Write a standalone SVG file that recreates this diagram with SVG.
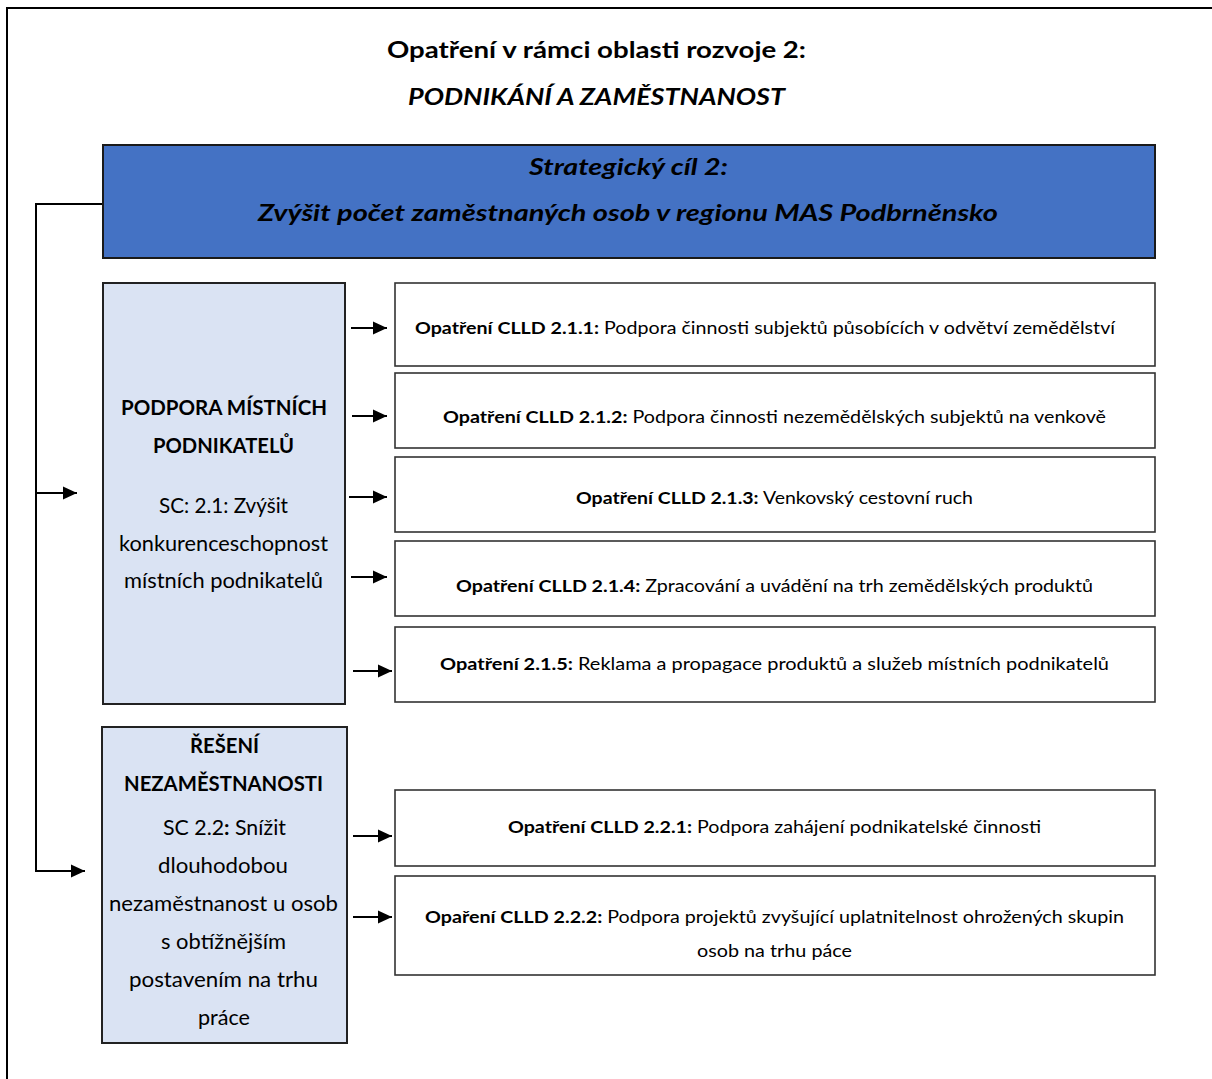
<svg xmlns="http://www.w3.org/2000/svg" width="1212" height="1079" viewBox="0 0 1212 1079">
<defs>
<style>
text{font-family:Lato,"Open Sans","Liberation Sans",sans-serif;fill:#000}
.t{font-size:22px;font-weight:bold}
.bl{font-size:23px;font-weight:bold;font-style:italic}
.lb{font-size:20.5px}
.b{font-weight:bold}
.rb{font-size:17.5px}
.frame{fill:none;stroke:#000;stroke-width:2}
.blue{fill:#4472C4;stroke:#1a1a1a;stroke-width:2}
.light{fill:#DAE3F3;stroke:#222;stroke-width:2}
.white{fill:#fff;stroke:#333;stroke-width:1.6}
.con{fill:none;stroke:#000;stroke-width:2}
</style>
<marker id="ah" viewBox="0 0 14 14" refX="14" refY="7" markerWidth="14" markerHeight="14" markerUnits="userSpaceOnUse" orient="auto">
<path d="M0,0.5 L14,7 L0,13.5 Z" fill="#000"/>
</marker>
</defs>
<rect width="1212" height="1079" fill="#fff"/>
<rect class="frame" x="7" y="8" width="1220" height="1090"/>

<g id="title">
<text class="t" x="387" y="58" textLength="419" lengthAdjust="spacingAndGlyphs">Opatření v rámci oblasti rozvoje 2:</text>
<text class="t" x="408" y="105" font-style="italic" textLength="377" lengthAdjust="spacingAndGlyphs">PODNIKÁNÍ A ZAMĚSTNANOST</text>
</g>

<g id="goal">
<rect class="blue" x="103" y="145" width="1052" height="113"/>
<text class="bl" x="529" y="175" textLength="199" lengthAdjust="spacingAndGlyphs">Strategický cíl 2:</text>
<text class="bl" x="258" y="221" textLength="740" lengthAdjust="spacingAndGlyphs">Zvýšit počet zaměstnaných osob v regionu MAS Podbrněnsko</text>
</g>

<g id="sc21">
<rect class="light" x="103" y="283" width="242" height="421"/>
<text class="lb b" x="121" y="415" textLength="206" lengthAdjust="spacingAndGlyphs">PODPORA MÍSTNÍCH</text>
<text class="lb b" x="153" y="453" textLength="141" lengthAdjust="spacingAndGlyphs">PODNIKATELŮ</text>
<text class="lb" x="159" y="513" textLength="129" lengthAdjust="spacingAndGlyphs">SC: 2.1: Zvýšit</text>
<text class="lb" x="119" y="551" textLength="209" lengthAdjust="spacingAndGlyphs">konkurenceschopnost</text>
<text class="lb" x="124" y="588" textLength="199" lengthAdjust="spacingAndGlyphs">místních podnikatelů</text>
</g>

<g id="sc22">
<rect class="light" x="102" y="727" width="245" height="316"/>
<text class="lb b" x="190" y="753" textLength="69" lengthAdjust="spacingAndGlyphs">ŘEŠENÍ</text>
<text class="lb b" x="124" y="791" textLength="199" lengthAdjust="spacingAndGlyphs">NEZAMĚSTNANOSTI</text>
<text class="lb" x="163" y="835" textLength="123" lengthAdjust="spacingAndGlyphs">SC 2.2<tspan class="b">:</tspan> Snížit</text>
<text class="lb" x="158" y="873" textLength="130" lengthAdjust="spacingAndGlyphs">dlouhodobou</text>
<text class="lb" x="109" y="911" textLength="229" lengthAdjust="spacingAndGlyphs">nezaměstnanost u osob</text>
<text class="lb" x="161" y="949" textLength="125" lengthAdjust="spacingAndGlyphs">s obtížnějším</text>
<text class="lb" x="129" y="987" textLength="189" lengthAdjust="spacingAndGlyphs">postavením na trhu</text>
<text class="lb" x="198" y="1025" textLength="52" lengthAdjust="spacingAndGlyphs">práce</text>
</g>

<g id="m211">
<rect class="white" x="395" y="283" width="760" height="83"/>
<text class="rb" x="415" y="334" textLength="700" lengthAdjust="spacingAndGlyphs"><tspan class="b">Opatření CLLD 2.1.1:</tspan> Podpora činnosti subjektů působících v odvětví zemědělství</text>
</g>
<g id="m212">
<rect class="white" x="395" y="373" width="760" height="75"/>
<text class="rb" x="443" y="423" textLength="663" lengthAdjust="spacingAndGlyphs"><tspan class="b">Opatření CLLD 2.1.2:</tspan> Podpora činnosti nezemědělských subjektů na venkově</text>
</g>
<g id="m213">
<rect class="white" x="395" y="457" width="760" height="75"/>
<text class="rb" x="576" y="504" textLength="397" lengthAdjust="spacingAndGlyphs"><tspan class="b">Opatření CLLD 2.1.3:</tspan> Venkovský cestovní ruch</text>
</g>
<g id="m214">
<rect class="white" x="395" y="541" width="760" height="75"/>
<text class="rb" x="456" y="592" textLength="637" lengthAdjust="spacingAndGlyphs"><tspan class="b">Opatření CLLD 2.1.4:</tspan> Zpracování a uvádění na trh zemědělských produktů</text>
</g>
<g id="m215">
<rect class="white" x="395" y="627" width="760" height="75"/>
<text class="rb" x="440" y="670" textLength="669" lengthAdjust="spacingAndGlyphs"><tspan class="b">Opatření 2.1.5:</tspan> Reklama a propagace produktů a služeb místních podnikatelů</text>
</g>
<g id="m221">
<rect class="white" x="395" y="790" width="760" height="76"/>
<text class="rb" x="508" y="833" textLength="533" lengthAdjust="spacingAndGlyphs"><tspan class="b">Opatření CLLD 2.2.1:</tspan> Podpora zahájení podnikatelské činnosti</text>
</g>
<g id="m222">
<rect class="white" x="395" y="876" width="760" height="99"/>
<text class="rb" x="425" y="923" textLength="699" lengthAdjust="spacingAndGlyphs"><tspan class="b">Opaření CLLD 2.2.2:</tspan> Podpora projektů zvyšující uplatnitelnost ohrožených skupin</text>
<text class="rb" x="697" y="957" textLength="155" lengthAdjust="spacingAndGlyphs">osob na trhu páce</text>
</g>

<g id="connectors">
<path class="con" d="M102,204 H36 V871 H85" marker-end="url(#ah)"/>
<path class="con" d="M36,493 H77" marker-end="url(#ah)"/>
<path class="con" d="M351,328 H387" marker-end="url(#ah)"/>
<path class="con" d="M352,416 H387" marker-end="url(#ah)"/>
<path class="con" d="M349,497 H387" marker-end="url(#ah)"/>
<path class="con" d="M351,577 H387" marker-end="url(#ah)"/>
<path class="con" d="M353,671 H392" marker-end="url(#ah)"/>
<path class="con" d="M353,836 H392" marker-end="url(#ah)"/>
<path class="con" d="M353,917 H392" marker-end="url(#ah)"/>
</g>
</svg>
